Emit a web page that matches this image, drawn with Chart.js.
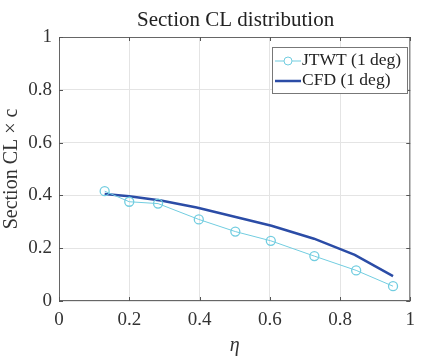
<!DOCTYPE html>
<html>
<head>
<meta charset="utf-8">
<script src="https://cdn.jsdelivr.net/npm/chart.js@4"></script>
<style>
  html, body { margin: 0; padding: 0; background: #fff; }
  #wrap { width: 423px; height: 358px; position: relative; }
</style>
</head>
<body>
<div id="wrap"><canvas id="chart" width="423" height="358"></canvas></div>
<script>
// data
const etaJtwt = [0.13, 0.2, 0.282, 0.398, 0.502, 0.603, 0.727, 0.846, 0.951];
const clJtwt = [0.416, 0.376, 0.369, 0.309, 0.263, 0.228, 0.170, 0.116, 0.056];
const etaCfd = [0.13, 0.2, 0.29, 0.392, 0.503, 0.605, 0.726, 0.842, 0.951];
const clCfd = [0.405, 0.397, 0.381, 0.354, 0.318, 0.285, 0.236, 0.175, 0.094];
const xTicks = [0, 0.2, 0.4, 0.6, 0.8, 1];
const yTicks = [0, 0.2, 0.4, 0.6, 0.8, 1];

const serif = '"Liberation Serif", "Times New Roman", serif';
const cyan = '#72cde0';
const blue = '#2b4ca6';

function toPoints(xs, ys) {
    return xs.map((x, i) => ({ x: x, y: ys[i] }));
}

// title, box, inner tick marks and legend, drawn MATLAB style
const decorPlugin = {
    id: 'decor',
    afterDraw(chart) {
        const ctx = chart.ctx;
        const a = chart.chartArea;
        const xs = chart.scales.x, ys = chart.scales.y;
        ctx.save();

        // title
        ctx.fillStyle = '#222';
        ctx.font = '21px ' + serif;
        ctx.textAlign = 'center';
        ctx.textBaseline = 'middle';
        ctx.fillText('Section CL distribution', (a.left + a.right) / 2 + 1, 20);

        // box
        ctx.strokeStyle = '#666';
        ctx.lineWidth = 1;
        ctx.strokeRect(a.left + 0.5, a.top + 0.5, a.right - a.left - 1, a.bottom - a.top - 1);

        // inner ticks
        ctx.strokeStyle = '#555';
        ctx.beginPath();
        xTicks.forEach(v => {
            const px = Math.round(xs.getPixelForValue(v)) + 0.5;
            ctx.moveTo(px, a.bottom); ctx.lineTo(px, a.bottom - 4);
            ctx.moveTo(px, a.top); ctx.lineTo(px, a.top + 4);
        });
        yTicks.forEach(v => {
            const py = Math.round(ys.getPixelForValue(v)) + 0.5;
            ctx.moveTo(a.left, py); ctx.lineTo(a.left + 4, py);
            ctx.moveTo(a.right, py); ctx.lineTo(a.right - 4, py);
        });
        ctx.stroke();

        // legend
        const lx = 272, ly = 47, lw = 135, lh = 46;
        ctx.fillStyle = '#fff';
        ctx.fillRect(lx, ly, lw, lh);
        ctx.strokeStyle = '#777';
        ctx.strokeRect(lx + 0.5, ly + 0.5, lw, lh);

        ctx.strokeStyle = cyan;
        ctx.lineWidth = 1;
        ctx.beginPath();
        ctx.moveTo(lx + 3, ly + 14); ctx.lineTo(lx + 29, ly + 14);
        ctx.stroke();
        ctx.beginPath();
        ctx.arc(lx + 16, ly + 14, 4, 0, Math.PI * 2);
        ctx.fillStyle = '#fff';
        ctx.fill();
        ctx.stroke();

        ctx.strokeStyle = blue;
        ctx.lineWidth = 2.5;
        ctx.beginPath();
        ctx.moveTo(lx + 3, ly + 34); ctx.lineTo(lx + 29, ly + 34);
        ctx.stroke();

        ctx.fillStyle = '#222';
        ctx.font = '17.5px ' + serif;
        ctx.textAlign = 'left';
        ctx.fillText('JTWT (1 deg)', lx + 30, ly + 13);
        ctx.fillText('CFD (1 deg)', lx + 30, ly + 33);
        ctx.restore();
    }
};

const config = {
    type: 'scatter',
    data: {
        datasets: [{
            label: 'JTWT (1 deg)',
            data: toPoints(etaJtwt, clJtwt),
            showLine: true,
            borderColor: cyan,
            borderWidth: 1,
            pointStyle: 'circle',
            pointRadius: 4.5,
            pointBorderWidth: 1.3,
            pointBackgroundColor: 'rgba(255,255,255,0)',
            pointBorderColor: cyan,
            tension: 0
        }, {
            label: 'CFD (1 deg)',
            data: toPoints(etaCfd, clCfd),
            showLine: true,
            borderColor: blue,
            borderWidth: 2.5,
            pointRadius: 0,
            tension: 0
        }]
    },
    options: {
        responsive: false,
        animation: false,
        layout: { padding: { top: 37, right: 4, left: 0, bottom: 0 } },
        plugins: {
            legend: { display: false },
            title: { display: false },
            tooltip: { enabled: false }
        },
        scales: {
            x: {
                type: 'linear',
                min: 0, max: 1,
                afterBuildTicks: s => { s.ticks = xTicks.map(v => ({ value: v })); },
                afterFit: s => { s.height = 57; },
                grid: { color: '#e4e4e4', drawTicks: false },
                border: { display: false },
                ticks: {
                    color: '#333',
                    padding: 8,
                    font: { family: serif, size: 19 },
                    callback: v => String(v)
                },
                title: {
                    display: true,
                    text: 'η',
                    color: '#333',
                    font: { family: serif, size: 20, style: 'italic' },
                    padding: { top: 2, bottom: 0 }
                }
            },
            y: {
                type: 'linear',
                min: 0, max: 1,
                afterBuildTicks: s => { s.ticks = yTicks.map(v => ({ value: v })); },
                afterFit: s => { s.width = 59; },
                grid: { color: '#e4e4e4', drawTicks: false },
                border: { display: false },
                ticks: {
                    color: '#333',
                    padding: 7,
                    font: { family: serif, size: 19 },
                    callback: v => String(v)
                },
                title: {
                    display: true,
                    text: 'Section CL × c',
                    color: '#333',
                    font: { family: serif, size: 20 },
                    padding: { top: 0, bottom: 3 }
                }
            }
        }
    },
    plugins: [decorPlugin]
};

new Chart(document.getElementById('chart').getContext('2d'), config);
</script>
</body>
</html>
